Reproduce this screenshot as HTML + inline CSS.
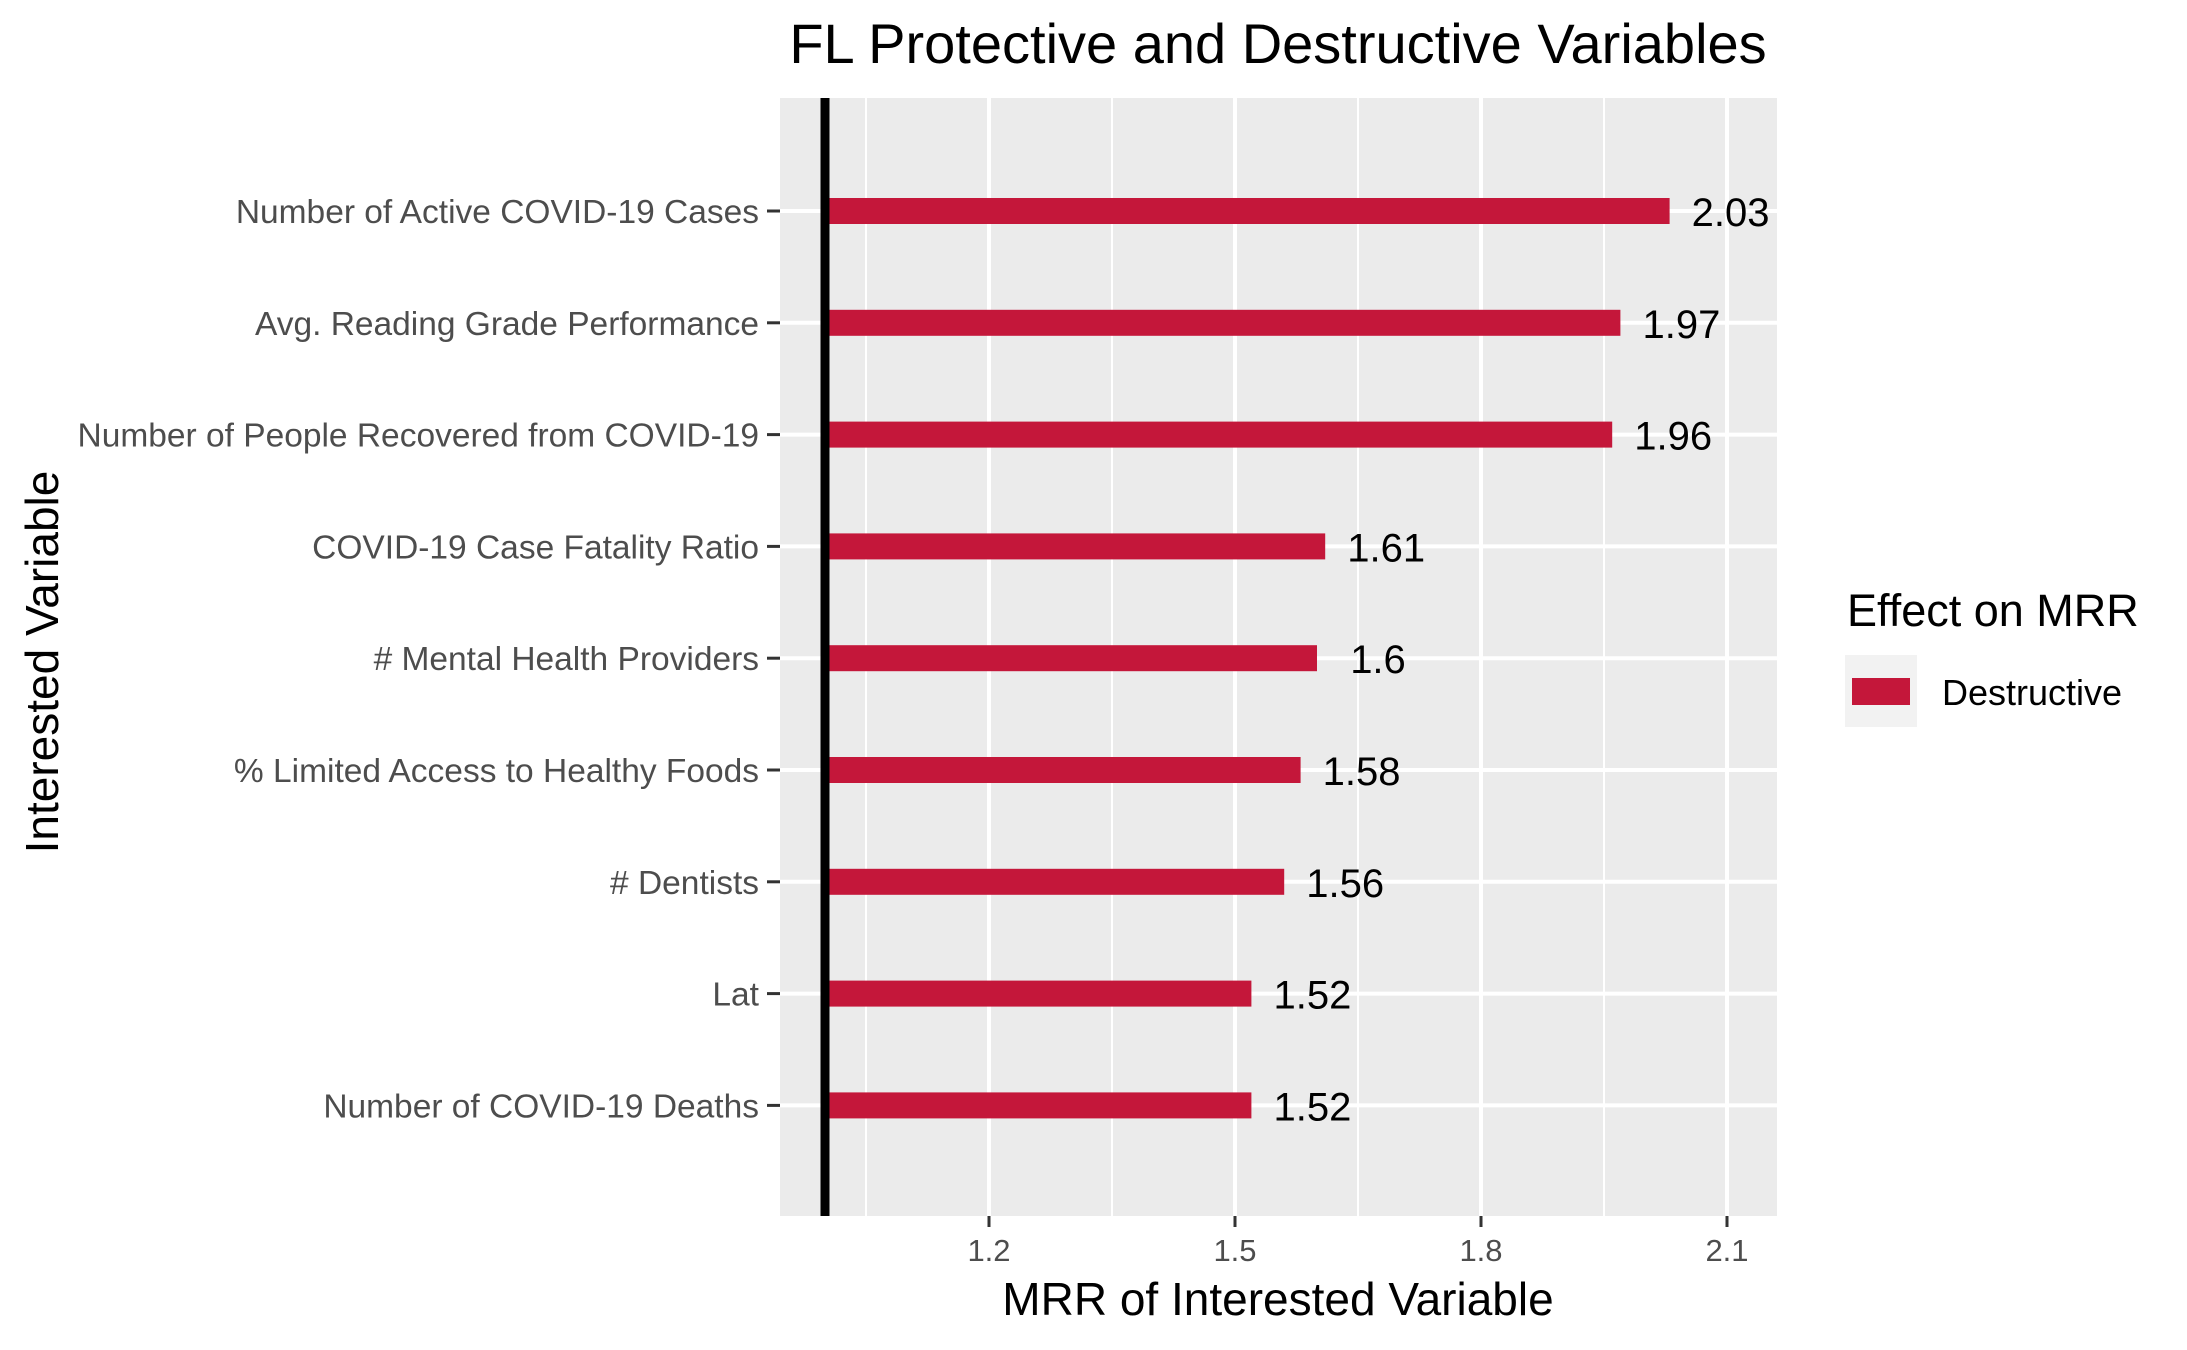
<!DOCTYPE html>
<html><head><meta charset="utf-8"><style>
html,body{margin:0;padding:0;background:#fff;}
svg{display:block;font-family:"Liberation Sans",Arial,sans-serif;}
</style></head><body>
<svg id="chart" width="2187" height="1350" viewBox="0 0 2187 1350">
<rect x="0" y="0" width="2187" height="1350" fill="#fff"/>
<text x="1278" y="63" font-size="56" text-anchor="middle" fill="#000">FL Protective and Destructive Variables</text>
<rect x="780" y="98" width="997" height="1118" fill="#ebebeb"/>
<g id="grid"></g>
<g id="bars"></g>
<line x1="825" y1="98" x2="825" y2="1216" stroke="#000" stroke-width="9"/>
<g id="axes"></g>
<text x="1278" y="1315" font-size="46" text-anchor="middle" fill="#000">MRR of Interested Variable</text>
<text transform="translate(58,662) rotate(-90)" font-size="46" text-anchor="middle" fill="#000">Interested Variable</text>
<g>
<text x="1847" y="626" font-size="45" fill="#000">Effect on MRR</text>
<rect x="1845" y="655" width="72" height="72" fill="#f2f2f2"/>
<rect x="1852" y="678" width="58" height="27" fill="#c4173a"/>
<text x="1942" y="705" font-size="36" fill="#000">Destructive</text>
</g>
</svg>
<script>
const categories = ["Number of Active COVID-19 Cases","Avg. Reading Grade Performance","Number of People Recovered from COVID-19","COVID-19 Case Fatality Ratio","# Mental Health Providers","% Limited Access to Healthy Foods","# Dentists","Lat","Number of COVID-19 Deaths"];
const values = [2.03, 1.97, 1.96, 1.61, 1.6, 1.58, 1.56, 1.52, 1.52];
const valueLabels = ["2.03","1.97","1.96","1.61","1.6","1.58","1.56","1.52","1.52"];
const xTicks = [1.2, 1.5, 1.8, 2.1];
const xTickLabels = ["1.2","1.5","1.8","2.1"];
const xMinor = [1.05, 1.35, 1.65, 1.95];

const NS = "http://www.w3.org/2000/svg";
function xs(v){ return 825 + (v - 1.0) * 820; }
function ys(i){ return 211 + i * 111.8; }
function mk(tag, attrs, parent){
  const e = document.createElementNS(NS, tag);
  for (const k in attrs) e.setAttribute(k, attrs[k]);
  parent.appendChild(e);
  return e;
}
const grid = document.getElementById('grid');
const bars = document.getElementById('bars');
const axes = document.getElementById('axes');

xMinor.forEach(v => {
  const l = mk('line', {x1: xs(v), x2: xs(v), y1: 98, y2: 1216, stroke: '#fff', 'stroke-width': 2}, grid);
  
  
});
xTicks.forEach((v, i) => {
  const l = mk('line', {x1: xs(v), x2: xs(v), y1: 98, y2: 1216, stroke: '#fff', 'stroke-width': 4}, grid);
  
  
  const t = mk('line', {x1: xs(v), x2: xs(v), y1: 1216, y2: 1227, stroke: '#333', 'stroke-width': 3}, axes);
  
  
  const tx = mk('text', {x: xs(v), y: 1261, 'font-size': 31, 'text-anchor': 'middle', fill: '#4d4d4d'}, axes);
  tx.textContent = xTickLabels[i];
  
  
});
categories.forEach((c, i) => {
  const y = ys(i);
  const g = mk('line', {x1: 780, x2: 1777, y1: y, y2: y, stroke: '#fff', 'stroke-width': 4}, grid);
  
  
  const b = mk('rect', {x: xs(1.0), y: y - 13, width: xs(values[i]) - xs(1.0), height: 26, fill: '#c4173a'}, bars);
  
  
  const vl = mk('text', {x: xs(values[i]) + 61, y: y + 15, 'font-size': 40, 'text-anchor': 'middle', fill: '#000'}, bars);
  vl.textContent = valueLabels[i];
  
  
  const tk = mk('line', {x1: 767, x2: 780, y1: y, y2: y, stroke: '#333', 'stroke-width': 3}, axes);
  
  
  const lb = mk('text', {x: 759, y: y + 12, 'font-size': 33.5, 'text-anchor': 'end', fill: '#4d4d4d'}, axes);
  lb.textContent = c;
  
  
});
</script>
</body></html>
